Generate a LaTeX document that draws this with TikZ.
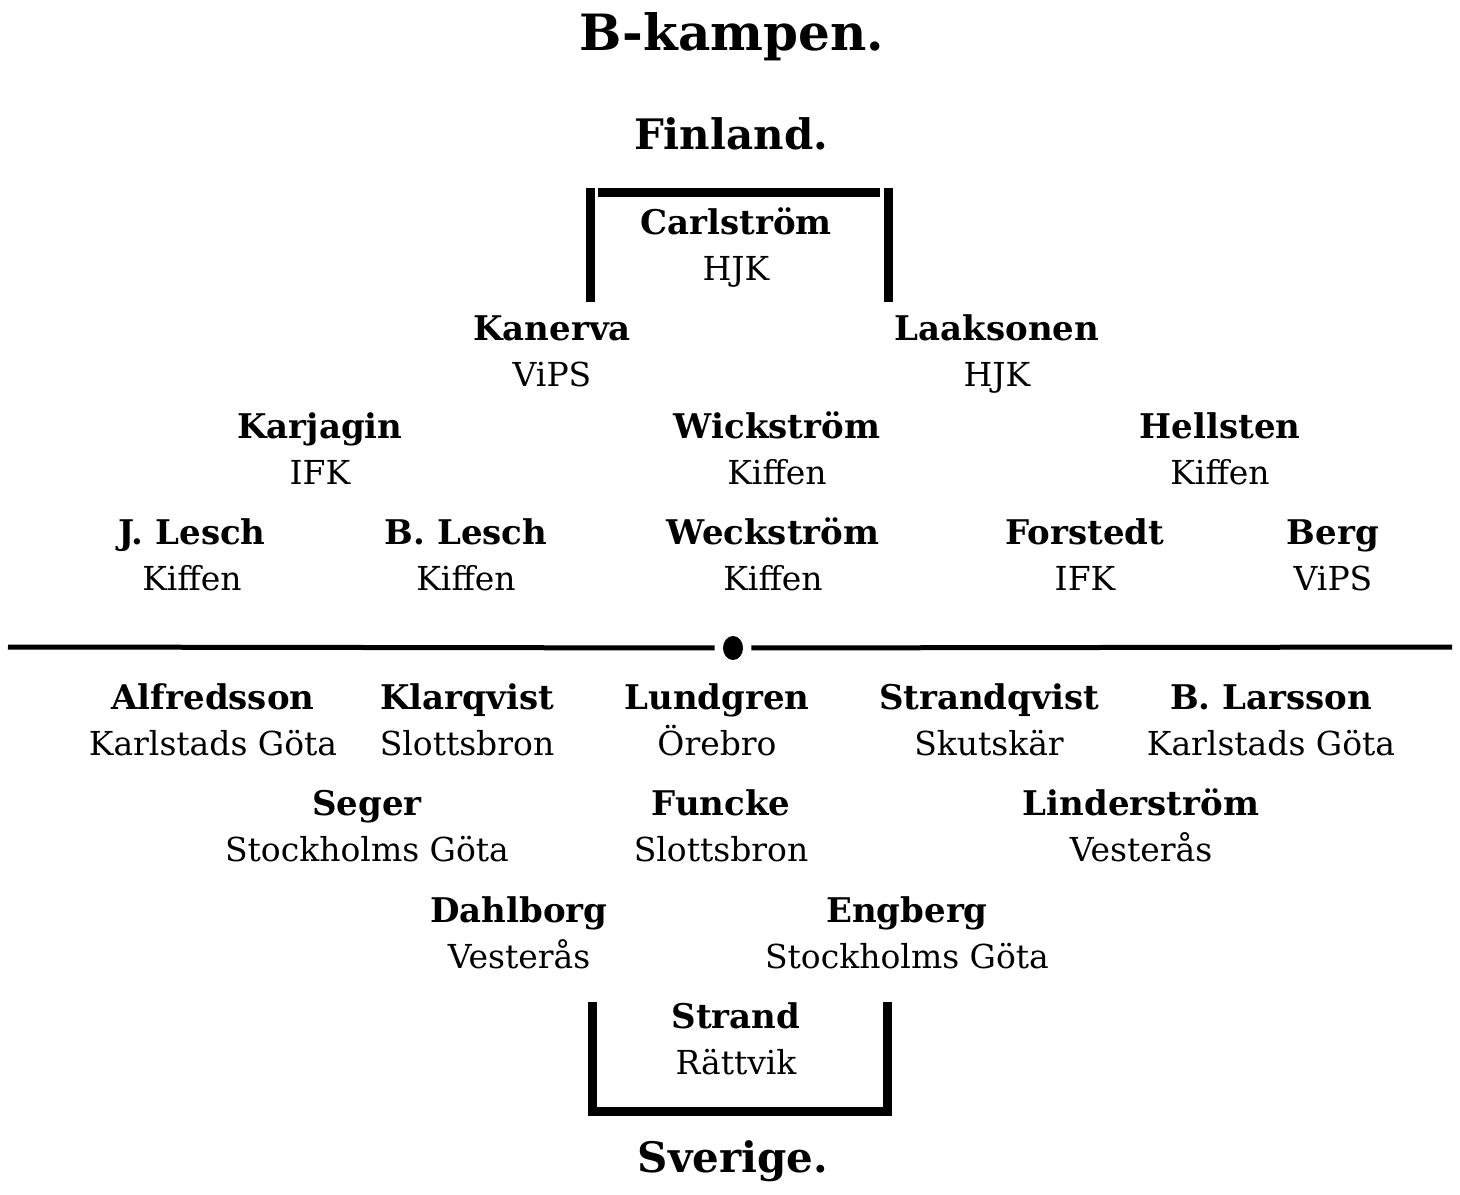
\documentclass[tikz,border=0pt]{standalone}
\usepackage{fontspec}
\setmainfont{DejaVu Serif}
\usetikzlibrary{shapes.geometric}

\begin{document}
\begin{tikzpicture}
[x=0.5pt,y=-0.5pt,
node distance=23pt,
title node/.style={font=\bfseries\fontsize{25}{29}\selectfont},
team node/.style={font=\bfseries\fontsize{21}{25}\selectfont},
name node/.style={font=\bfseries\fontsize{17}{20}\selectfont, inner sep=0pt, text height=14pt, text depth=2pt},
club node/.style={font=\fontsize{16.5}{20}\selectfont, inner sep=0pt, text height=14pt, text depth=2pt},
kickoff/.style={ellipse, fill, inner sep=0pt, minimum width=10pt, minimum height=12pt},
post/.style={line width=4.5pt},
halfway/.style={line width=2.5pt}]

  \useasboundingbox (0,0) rectangle (1460,1194);

  \node[title node] (title) at (732,37) {B-kampen.};
  \node[team node] (fin) at (731,134) {Finland.};
  \node[team node] (swe) at (733,1161) {Sverige.};

  % Finland
  \node[name node] (carl) at (736,222) {Carlström};
  \node[club node] (carlc) [below of=carl] {HJK};
  \node[name node] (kane) at (552,328) {Kanerva};
  \node[club node] (kanec) [below of=kane] {ViPS};
  \node[name node] (laak) at (997,328) {Laaksonen};
  \node[club node] (laakc) [below of=laak] {HJK};
  \node[name node] (karj) at (320,426) {Karjagin};
  \node[club node] (karjc) [below of=karj] {IFK};
  \node[name node] (wick) at (777,426) {Wickström};
  \node[club node] (wickc) [below of=wick] {Kiffen};
  \node[name node] (hell) at (1220,426) {Hellsten};
  \node[club node] (hellc) [below of=hell] {Kiffen};
  \node[name node] (jles) at (192,532) {J. Lesch};
  \node[club node] (jlesc) [below of=jles] {Kiffen};
  \node[name node] (bles) at (466,532) {B. Lesch};
  \node[club node] (blesc) [below of=bles] {Kiffen};
  \node[name node] (weck) at (773,532) {Weckström};
  \node[club node] (weckc) [below of=weck] {Kiffen};
  \node[name node] (fors) at (1085,532) {Forstedt};
  \node[club node] (forsc) [below of=fors] {IFK};
  \node[name node] (berg) at (1333,532) {Berg};
  \node[club node] (bergc) [below of=berg] {ViPS};

  % Sverige
  \node[name node] (alfr) at (213,697) {Alfredsson};
  \node[club node] (alfrc) [below of=alfr] {Karlstads Göta};
  \node[name node] (klar) at (467,697) {Klarqvist};
  \node[club node] (klarc) [below of=klar] {Slottsbron};
  \node[name node] (lund) at (717,697) {Lundgren};
  \node[club node] (lundc) [below of=lund] {Örebro};
  \node[name node] (stra) at (989,697) {Strandqvist};
  \node[club node] (strac) [below of=stra] {Skutskär};
  \node[name node] (bla) at (1271,697) {B. Larsson};
  \node[club node] (blac) [below of=bla] {Karlstads Göta};
  \node[name node] (sege) at (367,803) {Seger};
  \node[club node] (segec) [below of=sege] {Stockholms Göta};
  \node[name node] (func) at (721,803) {Funcke};
  \node[club node] (funcc) [below of=func] {Slottsbron};
  \node[name node] (lind) at (1141,803) {Linderström};
  \node[club node] (lindc) [below of=lind] {Vesterås};
  \node[name node] (dahl) at (519,910) {Dahlborg};
  \node[club node] (dahlc) [below of=dahl] {Vesterås};
  \node[name node] (engb) at (907,910) {Engberg};
  \node[club node] (engbc) [below of=engb] {Stockholms Göta};
  \node[name node] (stran) at (736,1016) {Strand};
  \node[club node] (stranc) [below of=stran] {Rättvik};

  % mittlinjen
  \coordinate (lineL) at (8,647);
  \coordinate (lineR) at (1452,647);
  \node[kickoff] (kick) at (733,648) {};
  \draw[halfway, shorten >=4pt] (lineL) -- (kick);
  \draw[halfway, shorten <=4pt] (kick) -- (lineR);

  % mål
  \draw[post] (590,188) -- (590,302);
  \draw[post] (888,188) -- (888,302);
  \draw[post] (598,192) -- (880,192);
  \draw[post] (592,1002) -- (592,1111) -- (887,1111) -- (887,1002);

\end{tikzpicture}
\end{document}
